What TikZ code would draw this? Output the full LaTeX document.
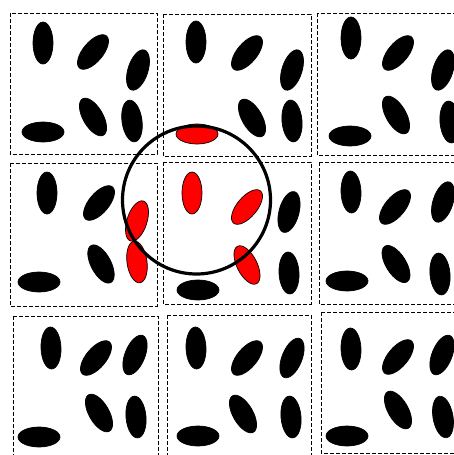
\documentclass[tikz,border=0pt]{standalone}
\tikzset{
  cellbox/.style={draw=black, line width=1pt, dash pattern=on 4pt off 2pt},
  lens/.style={draw=black, line width=3.2pt}
}
\newcommand\elli[4][black]{\filldraw[fill=#1, draw=black, line width=0.7pt, rotate around={#4:(#2,#3)}] (#2,#3) ellipse [x radius=21, y radius=10];}
\begin{document}
\begin{tikzpicture}[x=1pt,y=-1pt]
\useasboundingbox (0,0) rectangle (454,455);
\begin{scope}
\clip (0,0) rectangle (454,455);
% boxes
\draw[cellbox] (10,13) rectangle (157,154);
\draw[cellbox] (163,14) rectangle (311,156);
\draw[cellbox] (317,13) rectangle (470,155);
\draw[cellbox] (10,163) rectangle (157,306);
\draw[cellbox] (163,162) rectangle (311,304);
\draw[cellbox] (319,162) rectangle (470,304);
\draw[cellbox] (13,316) rectangle (158,470);
\draw[cellbox] (167,315) rectangle (311,470);
\draw[cellbox] (321,312) rectangle (470,453);
% box 1
\elli{43}{43}{90} \elli{93}{52}{50} \elli{138}{70}{72}
\elli{93}{117}{120} \elli{132}{121}{98} \elli{43}{132}{0}
% box 2
\elli{196}{42}{90} \elli{247}{53}{50} \elli{292}{70}{72}
\elli{252}{118}{120} \elli{292}{121}{95} \elli[red]{197}{134}{0}
% box 3
\elli{351}{38}{90} \elli{398}{53}{50} \elli{443}{70}{72}
\elli{396}{115}{120} \elli{450}{122}{95} \elli{350}{136}{0}
% box 4
\elli{47}{193}{90} \elli{99}{203}{50} \elli[red]{137}{221}{72}
\elli{101}{264}{118} \elli[red]{137}{262}{98} \elli{39}{282}{0}
% box 5
\elli[red]{192}{193}{90} \elli[red]{247}{207}{50} \elli{289}{212}{75}
\elli[red]{247}{265}{117} \elli{289}{273}{93} \elli{198}{290}{0}
% box 6
\elli{351}{192}{92} \elli{395}{207}{50} \elli{443}{202}{72}
\elli{396}{264}{122} \elli{440}{274}{95} \elli{347}{281}{0}
% box 7
\elli{51}{348}{92} \elli{96}{358}{50} \elli{135}{355}{68}
\elli{99}{413}{120} \elli{136}{417}{95} \elli{39}{437}{0}
% box 8
\elli{196}{348}{92} \elli{247}{358}{50} \elli{292}{358}{68}
\elli{243}{414}{120} \elli{291}{417}{95} \elli{198}{436}{0}
% box 9
\elli{351}{349}{92} \elli{398}{357}{50} \elli{442}{355}{68}
\elli{398}{410}{120} \elli{443}{417}{100} \elli{347}{436}{0}
\end{scope}
% circle
\draw[lens] (196.5,200) circle [radius=74];
\end{tikzpicture}
\end{document}
